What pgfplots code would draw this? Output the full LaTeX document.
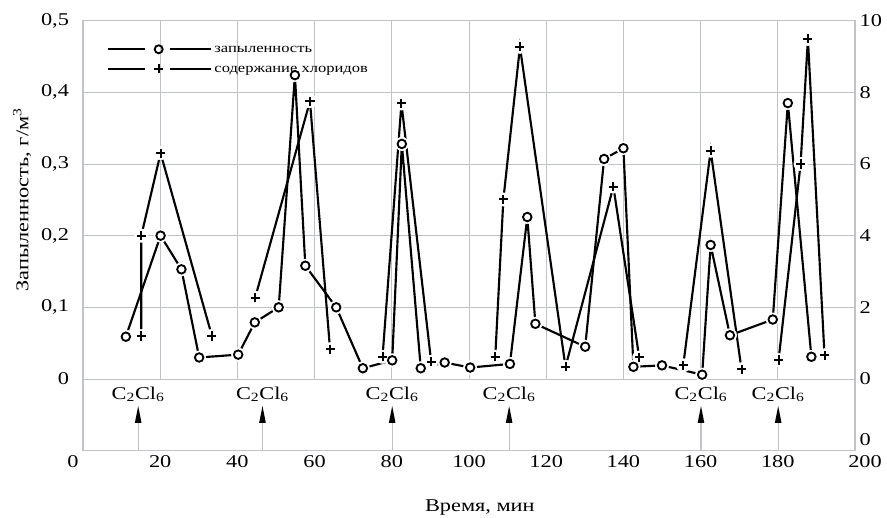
\documentclass[border=0pt]{standalone}
\usepackage{fontspec}
\setmainfont[FakeStretch=1.24]{Liberation Serif}
\usepackage{pgfplots}
\usepackage{pgfplotstable}
\pgfplotsset{compat=1.18}
\usetikzlibrary{calc}

\definecolor{gridgray}{RGB}{192,196,201}

% dust concentration, g/m^3
\pgfplotstableread{
t d
11.1 0.059
20.1 0.200
25.5 0.153
30.1 0.030
40.2 0.034
44.5 0.079
50.7 0.100
54.9 0.424
57.6 0.158
65.6 0.100
72.5 0.015
80.1 0.026
82.6 0.328
87.5 0.015
93.7 0.023
100.3 0.016
110.6 0.021
115.1 0.226
117.2 0.077
130.1 0.045
135.0 0.307
140.0 0.322
142.6 0.017
150.0 0.019
160.4 0.006
162.6 0.187
167.6 0.061
178.7 0.083
182.6 0.385
188.7 0.031
}\dusttab

% chloride content (right scale); nan separates the episodes
\pgfplotstableread{
t c
15.1 1.20
15.1 4.00
20.1 6.30
33.4 1.20
38.0 nan
44.6 2.27
58.8 7.75
64.0 0.83
70.0 nan
77.6 0.62
82.5 7.69
90.2 0.48
100.0 nan
106.8 0.62
108.9 5.01
113.2 9.27
125.0 0.34
137.4 5.37
144.1 0.60
150.0 nan
155.5 0.38
162.6 6.37
170.6 0.27
175.0 nan
180.2 0.53
185.9 6.00
187.8 9.49
192.1 0.66
}\chlortab

\newcommand{\lblfont}{\fontsize{13.5}{16}\selectfont}
\newcommand{\legfont}{\fontsize{10}{12}\selectfont}

\pgfplotsset{
  every tick label/.append style={font=\lblfont},
  every axis label/.append style={font=\lblfont},
  major tick length=0pt,
  /pgf/number format/assume math mode=true,
}

\begin{document}
\begin{tikzpicture}
\begin{axis}[
  name=main,
  scale only axis,
  width=579pt, height=322.5pt,
  xmin=0, xmax=200, ymin=-0.1, ymax=0.5,
  xtick={0,20,...,200},
  xticklabels={{\hspace*{-15pt}0},20,40,60,80,100,120,140,160,180,{200\hspace*{-15pt}}},
  ytick={0,0.1,0.2,0.3,0.4,0.5},
  yticklabel style={/pgf/number format/fixed,/pgf/number format/precision=1,
    /pgf/number format/use comma, xshift=-7pt},
  ymajorgrids,
  grid style={gridgray, line width=0.7pt},
  axis line style={gridgray, line width=0.8pt},
  clip=false,
  xlabel={Время, мин},
  xlabel style={at={(axis description cs:0.514,0)}, anchor=base, yshift=-46pt},
  ylabel={Запыленность, г/м\textsuperscript{3}},
  ylabel style={at={(axis description cs:-0.079,0.5833)}, anchor=center},
  legend style={draw=none, fill=none, font=\legfont, inner sep=0pt,
    at={(axis description cs:0.0307,0.955)}, anchor=north west,
    row sep=1pt, nodes={inner sep=1.5pt, text height=8pt, text depth=2.5pt}},
  legend cell align=left,
]
% vertical grid only above zero
\pgfplotsinvokeforeach{20,40,60,80,100,120,140,160,180}{
  \draw[gridgray, line width=0.7pt] (axis cs:#1,0) -- (axis cs:#1,0.5);
}
% C2Cl6 injection markers
\pgfplotsinvokeforeach{14.3,46.5,80.1,110.4,160.1,180.1}{
  \draw[gridgray, line width=0.8pt] (axis cs:#1,-0.1) -- (axis cs:#1,-0.06);
  \fill[black] (axis cs:#1,-0.0377) -- ++(-2.5pt,-12.7pt) -- ++(5pt,0pt) -- cycle;
  \node[anchor=base, font=\lblfont, inner sep=0pt] at (axis cs:#1,-0.028)
    {C\textsubscript{2}Cl\textsubscript{6}};
}

% lines
\addplot[black, line width=1.6pt, no marks, forget plot] table[x=t, y=d] {\dusttab};
\addplot[black, line width=1.6pt, no marks, unbounded coords=jump, forget plot]
  table[x=t, y expr=\thisrow{c}*0.05] {\chlortab};
% white gaps round the markers
\addplot[only marks, mark=*, mark size=5pt, white, forget plot] table[x=t, y=d] {\dusttab};
\addplot[only marks, mark=*, mark size=5pt, white, unbounded coords=discard, forget plot]
  table[x=t, y expr=\thisrow{c}*0.05] {\chlortab};
% markers
\addplot[only marks, mark=o, mark size=3.2pt, black, line width=1.4pt,
  legend image code/.code={
    \draw[black, line width=1.6pt] (0pt,0pt) -- (27.5pt,0pt);
    \draw[black, line width=1.6pt] (46.7pt,0pt) -- (77.5pt,0pt);
    \draw[black, line width=1.4pt] (38pt,0pt) circle (3pt);
  }] table[x=t, y=d] {\dusttab};
\addlegendentry{запыленность}
\addplot[only marks, mark=+, mark size=3.4pt, black, line width=1.5pt,
  unbounded coords=discard,
  legend image code/.code={
    \draw[black, line width=1.6pt] (0pt,0pt) -- (27.5pt,0pt);
    \draw[black, line width=1.6pt] (46.7pt,0pt) -- (77.5pt,0pt);
    \draw[black, line width=1.5pt] (34.7pt,0pt) -- (41.3pt,0pt) (38pt,-3.3pt) -- (38pt,3.3pt);
  }] table[x=t, y expr=\thisrow{c}*0.05] {\chlortab};
\addlegendentry{содержание хлоридов}
\end{axis}

\begin{axis}[
  scale only axis,
  width=579pt, height=322.5pt,
  xmin=0, xmax=200, ymin=-2, ymax=10,
  axis x line=none,
  axis y line*=right,
  axis line style={gridgray, line width=0.8pt},
  ytick={0,2,4,6,8,10},
  clip=false,
]
\node[anchor=west, font=\lblfont] at (axis cs:200,-1.7) {0};
\end{axis}

\pgfresetboundingbox
\path[use as bounding box] ($(main.south west)+(-62.25pt,-50.5pt)$)
  rectangle ($(main.north east)+(24pt,15.5pt)$);
\end{tikzpicture}
\end{document}
